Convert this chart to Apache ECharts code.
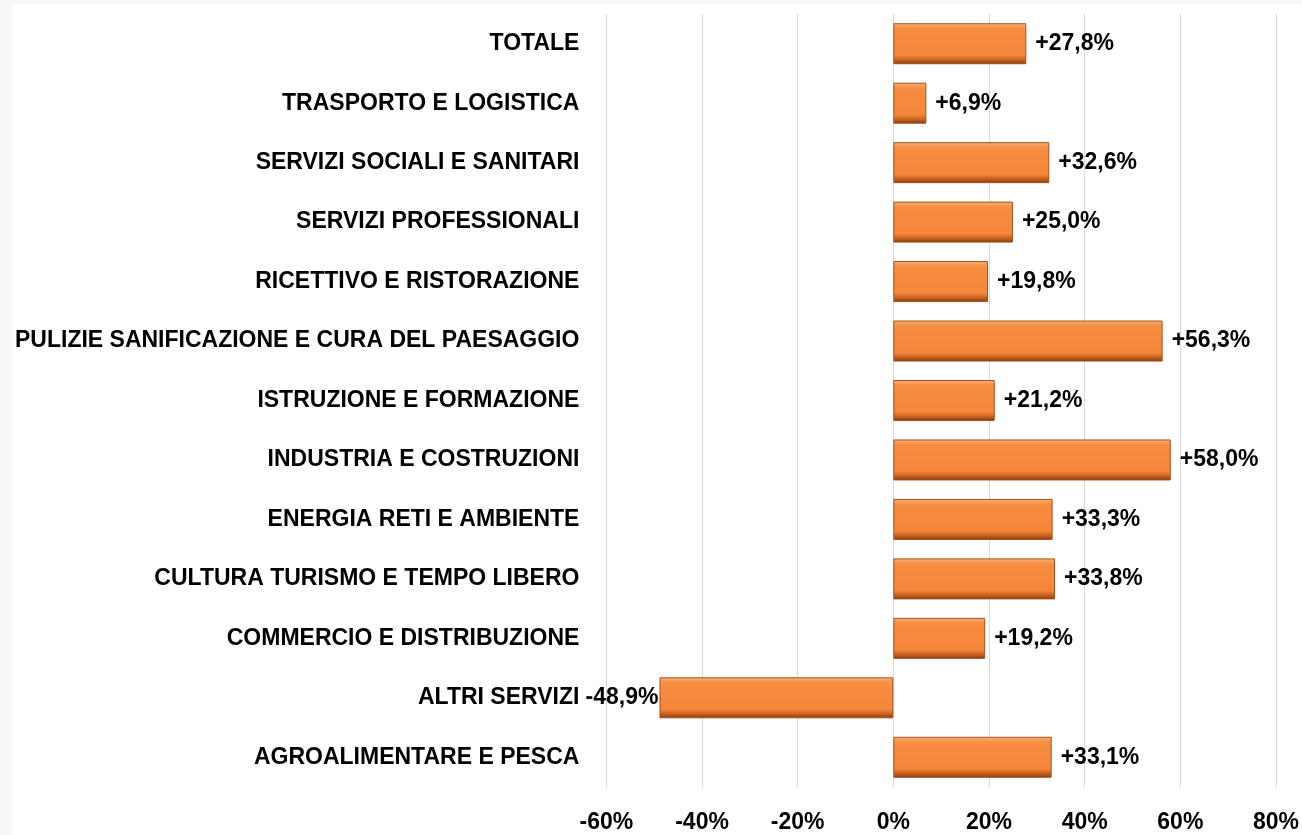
<!DOCTYPE html>
<html>
<head>
    <meta charset="utf-8">
    <title>Variazione per settore</title>
    <script src="https://cdn.jsdelivr.net/npm/echarts@6/dist/echarts.min.js"></script>
    <style>
        html, body { margin: 0; padding: 0; background: #f7f7f7; }
        #main { position: absolute; left: 12px; top: 4px; width: 1290px; height: 831px; background: #fff; }
    </style>
</head>
<body>
    <div id="main"></div>
    <script type="text/javascript">

    // settori, dal basso verso l'alto
    var settori = [
        'AGROALIMENTARE E PESCA',
        'ALTRI SERVIZI',
        'COMMERCIO E DISTRIBUZIONE',
        'CULTURA TURISMO E TEMPO LIBERO',
        'ENERGIA RETI E AMBIENTE',
        'INDUSTRIA E COSTRUZIONI',
        'ISTRUZIONE E FORMAZIONE',
        'PULIZIE SANIFICAZIONE E CURA DEL PAESAGGIO',
        'RICETTIVO E RISTORAZIONE',
        'SERVIZI PROFESSIONALI',
        'SERVIZI SOCIALI E SANITARI',
        'TRASPORTO E LOGISTICA',
        'TOTALE'
    ];
    // variazione percentuale
    var variazioni = [33.1, -48.9, 19.2, 33.8, 33.3, 58.0, 21.2, 56.3, 19.8, 25.0, 32.6, 6.9, 27.8];

    var asseMin = -60, asseMax = 80, asseStep = 20;

    var font = '"Liberation Sans", Arial, sans-serif';

    var barColor = new echarts.graphic.LinearGradient(0, 0, 0, 1, [
        {offset: 0, color: '#f9b27a'},
        {offset: 0.14, color: '#f68d40'},
        {offset: 0.78, color: '#f5863a'},
        {offset: 0.9, color: '#c5601e'},
        {offset: 1, color: '#7f3a10'}
    ]);

    function fmt(v) {
        return (v > 0 ? '+' : '') + v.toFixed(1).replace('.', ',') + '%';
    }

    var dati = variazioni.map(function (v) {
        return {
            value: v,
            label: {position: v < 0 ? 'left' : 'right', distance: v < 0 ? 1 : 9}
        };
    });

    var myChart = echarts.init(document.getElementById('main'));

    var option = {
        animation: false,
        grid: {left: 593, right: 25, top: 10, bottom: 48, containLabel: false},
        xAxis: {
            type: 'value',
            min: asseMin,
            max: asseMax,
            interval: asseStep,
            axisLine: {show: false},
            axisTick: {show: false},
            splitLine: {lineStyle: {color: '#d9d9d9', width: 1}},
            axisLabel: {
                margin: 24,
                color: '#000',
                fontFamily: font,
                fontWeight: 'bold',
                fontSize: 23,
                formatter: '{value}%'
            }
        },
        yAxis: {
            type: 'category',
            data: settori,
            axisLine: {show: false, onZero: false},
            axisTick: {show: false},
            axisLabel: {
                margin: 27,
                color: '#000',
                fontFamily: font,
                fontWeight: 'bold',
                fontSize: 23
            }
        },
        series: [{
            type: 'bar',
            data: dati,
            barWidth: 41,
            itemStyle: {
                color: barColor,
                borderColor: '#a9501a',
                borderWidth: 1
            },
            label: {
                show: true,
                color: '#000',
                fontFamily: font,
                fontWeight: 'bold',
                fontSize: 23,
                formatter: function (p) { return fmt(p.value); }
            }
        }]
    };

    myChart.setOption(option);
    </script>
</body>
</html>
